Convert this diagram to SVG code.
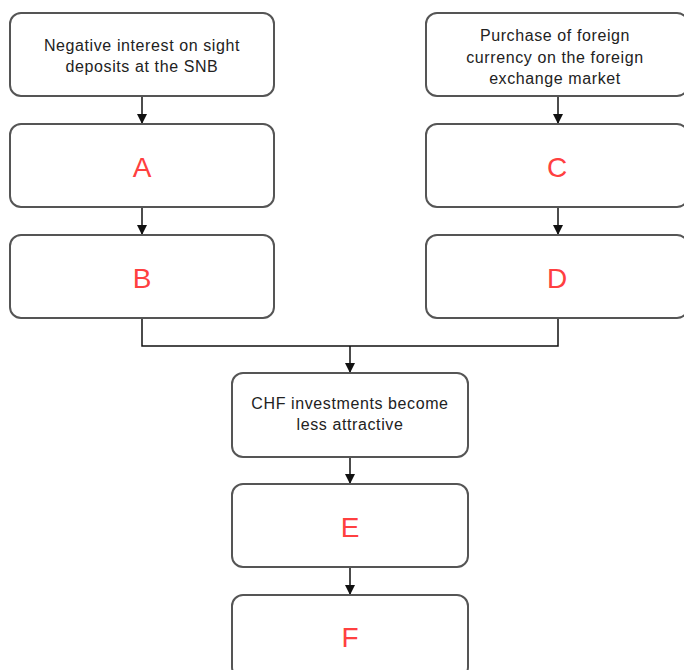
<svg xmlns="http://www.w3.org/2000/svg" width="684" height="670" viewBox="0 0 684 670">
<defs>
<style>
.box{fill:#fff;stroke:#555;stroke-width:2}
.t{font-family:"Liberation Sans",Arial,sans-serif;font-size:16px;fill:#222;text-anchor:middle;letter-spacing:0.6px}
.L{font-family:"Liberation Sans",Arial,sans-serif;font-size:28px;fill:#ff4040;text-anchor:middle}
.c{fill:none;stroke:#111;stroke-width:1.5}
</style>
<marker id="ah" markerWidth="10" markerHeight="10" refX="9" refY="5" orient="auto" markerUnits="userSpaceOnUse">
<path d="M0,0 L10,5 L0,10 Z" fill="#111"/>
</marker>
</defs>
<rect width="684" height="670" fill="#fff"/>
<g id="connectors">
<path class="c" d="M142,96 V123" marker-end="url(#ah)"/>
<path class="c" d="M142,207 V234" marker-end="url(#ah)"/>
<path class="c" d="M558,96 V123" marker-end="url(#ah)"/>
<path class="c" d="M558,207 V234" marker-end="url(#ah)"/>
<path class="c" d="M142,318 V346 H558 V318"/>
<path class="c" d="M350,346 V372" marker-end="url(#ah)"/>
<path class="c" d="M350,457 V483" marker-end="url(#ah)"/>
<path class="c" d="M350,567 V594" marker-end="url(#ah)"/>
</g>
<g id="n1"><rect class="box" x="10" y="13" width="264" height="83" rx="11"/>
<text class="t" x="142" y="51">Negative interest on sight</text>
<text class="t" x="142" y="72">deposits at the SNB</text></g>
<g id="nA"><rect class="box" x="10" y="124" width="264" height="83" rx="11"/><text class="L" x="142" y="177">A</text></g>
<g id="nB"><rect class="box" x="10" y="235" width="264" height="83" rx="11"/><text class="L" x="142" y="288">B</text></g>
<g id="n2"><rect class="box" x="426" y="13" width="262" height="83" rx="11"/>
<text class="t" x="555" y="41">Purchase of foreign</text>
<text class="t" x="555" y="63">currency on the foreign</text>
<text class="t" x="555" y="84">exchange market</text></g>
<g id="nC"><rect class="box" x="426" y="124" width="262" height="83" rx="11"/><text class="L" x="557" y="177">C</text></g>
<g id="nD"><rect class="box" x="426" y="235" width="262" height="83" rx="11"/><text class="L" x="557" y="288">D</text></g>
<g id="n3"><rect class="box" x="232" y="373" width="236" height="84" rx="11"/>
<text class="t" x="350" y="409">CHF investments become</text>
<text class="t" x="350" y="430">less attractive</text></g>
<g id="nE"><rect class="box" x="232" y="484" width="236" height="83" rx="11"/><text class="L" x="350" y="537">E</text></g>
<g id="nF"><rect class="box" x="232" y="595" width="236" height="83" rx="11"/><text class="L" x="350" y="647">F</text></g>
</svg>
